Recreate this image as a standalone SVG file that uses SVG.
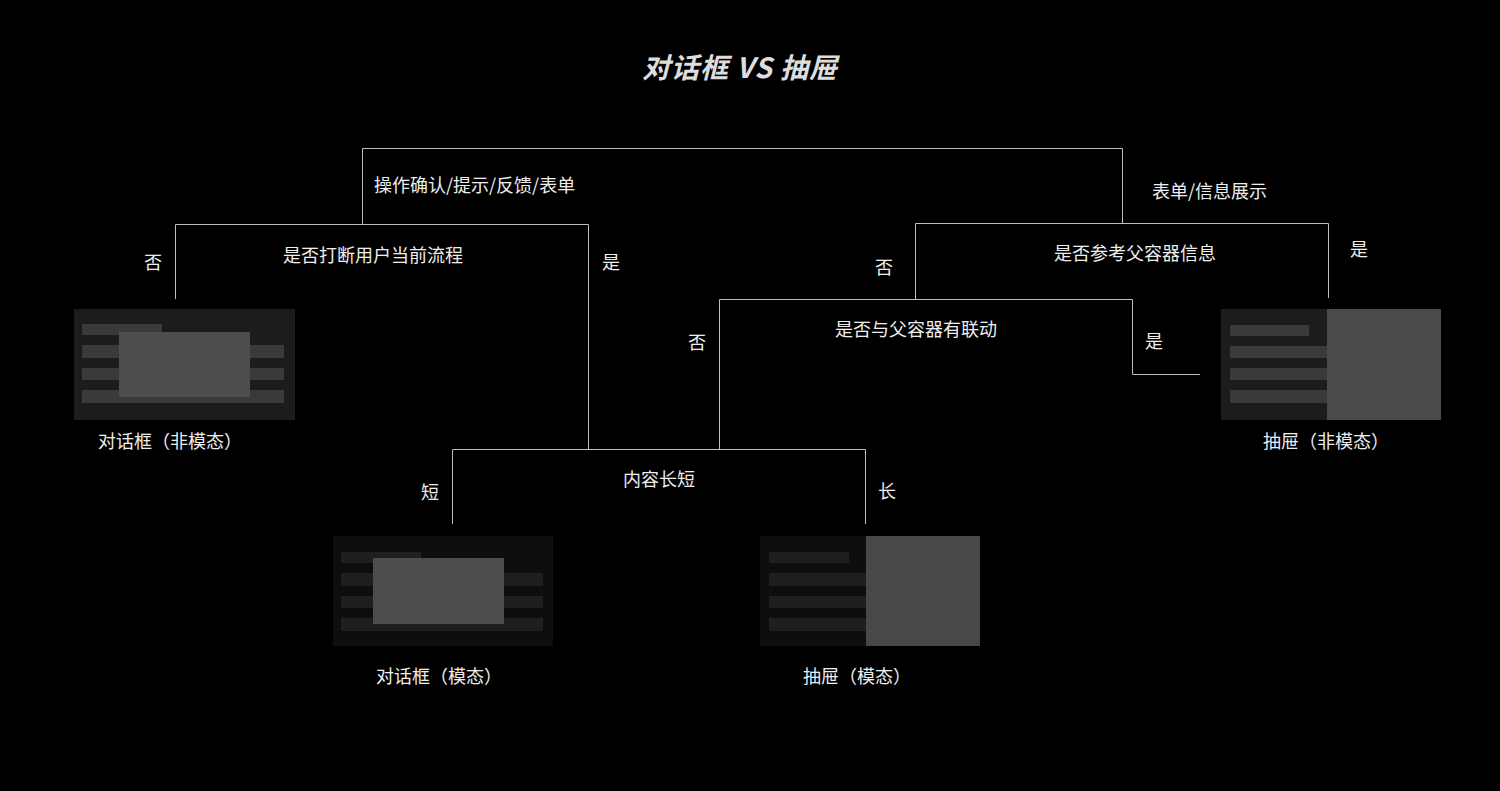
<svg xmlns="http://www.w3.org/2000/svg" width="1500" height="791" viewBox="0 0 1500 791">
<style>
text{font-family:"Noto Sans CJK SC","Noto Sans",sans-serif;fill:#eeeeee;font-size:18px;text-anchor:middle}
.l{text-anchor:start}
.c path{fill:none;stroke:#bdbdbd;stroke-width:1}
.nb{fill:#1c1c1c}.nbar{fill:#3a3a3a}.mb{fill:#0e0e0e}.mbar{fill:#1f1f1f}.pane{fill:#4a4a4a}
</style>
<rect width="1500" height="791" fill="#000"/>
<text x="740" y="78" style="font-size:28px;font-weight:600;font-style:italic;letter-spacing:1px;fill:#dddddd">对话框 VS 抽屉</text>
<g class="c" id="connectors">
<path d="M362.5 224V148.5H1122.5V223"/>
<path d="M175.5 299V224.5H588.5V449"/>
<path d="M915.5 299V223.5H1328.5V298"/>
<path d="M719.5 449V299.5H1132.5V374.5H1200"/>
<path d="M452.5 524V449.5H865.5V524"/>
</g>
<g id="labels">
<text class="l" x="374" y="192">操作确认/提示/反馈/表单</text>
<text class="l" x="1152" y="198">表单/信息展示</text>
<text x="153" y="269">否</text><text x="373" y="262">是否打断用户当前流程</text><text x="611" y="269">是</text>
<text x="884" y="274">否</text><text x="1135" y="260">是否参考父容器信息</text><text x="1359" y="256">是</text>
<text x="697" y="349">否</text><text x="916" y="336">是否与父容器有联动</text><text x="1154" y="348">是</text>
<text x="430" y="499">短</text><text x="659" y="486">内容长短</text><text x="887" y="498">长</text>
</g>
<g id="dialog-nonmodal">
<rect class="nb" x="74" y="309" width="221" height="111"/>
<rect class="nbar" x="82" y="324" width="80" height="11"/>
<rect class="nbar" x="82" y="345" width="202" height="13"/>
<rect class="nbar" x="82" y="368" width="202" height="12"/>
<rect class="nbar" x="82" y="390" width="202" height="13"/>
<rect fill="#4d4d4d" x="119" y="332" width="131" height="65"/>
<text x="170" y="448">对话框（非模态）</text>
</g>
<g id="dialog-modal">
<rect class="mb" x="333" y="536" width="220" height="110"/>
<rect class="mbar" x="341" y="552" width="80" height="11"/>
<rect class="mbar" x="341" y="573" width="202" height="13"/>
<rect class="mbar" x="341" y="596" width="202" height="12"/>
<rect class="mbar" x="341" y="618" width="202" height="13"/>
<rect fill="#4d4d4d" x="373" y="558" width="131" height="66"/>
<text x="439" y="683">对话框（模态）</text>
</g>
<g id="drawer-nonmodal">
<rect class="nb" x="1221" y="309" width="220" height="111"/>
<rect class="nbar" x="1230" y="325" width="79" height="11"/>
<rect class="nbar" x="1230" y="346" width="97" height="12"/>
<rect class="nbar" x="1230" y="368" width="97" height="12"/>
<rect class="nbar" x="1230" y="390" width="97" height="13"/>
<rect class="pane" x="1327" y="309" width="114" height="111"/>
<text x="1326" y="448">抽屉（非模态）</text>
</g>
<g id="drawer-modal">
<rect class="mb" x="760" y="536" width="220" height="110"/>
<rect class="mbar" x="769" y="552" width="80" height="11"/>
<rect class="mbar" x="769" y="573" width="97" height="13"/>
<rect class="mbar" x="769" y="596" width="97" height="12"/>
<rect class="mbar" x="769" y="618" width="97" height="13"/>
<rect fill="#484848" x="866" y="536" width="114" height="110"/>
<text x="857" y="683">抽屉（模态）</text>
</g>
</svg>
